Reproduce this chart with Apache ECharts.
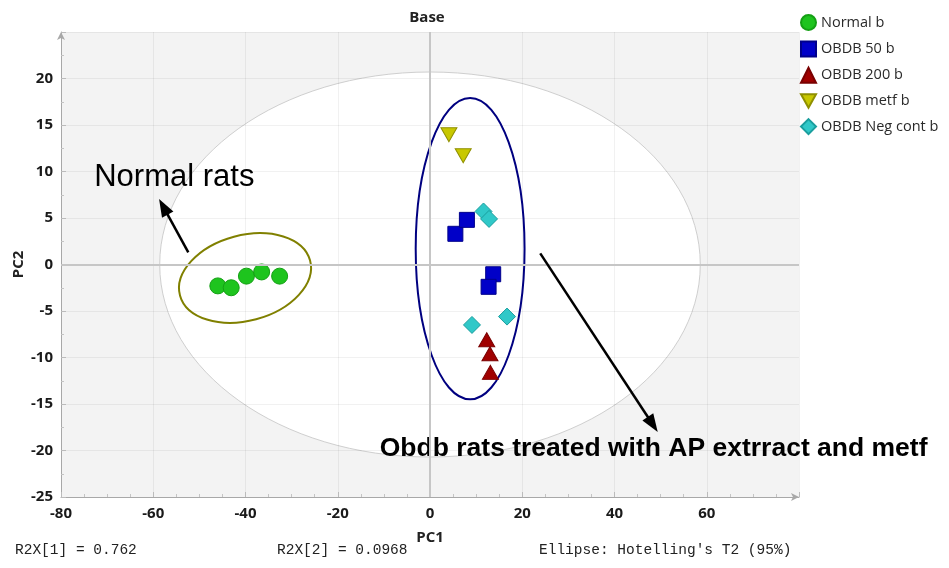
<!DOCTYPE html>
<html>
<head>
<meta charset="utf-8">
<title>Base – PCA score plot</title>
<script src="https://cdn.jsdelivr.net/npm/echarts@6/dist/echarts.min.js"></script>
<style>
  html, body { margin: 0; padding: 0; background: #ffffff; }
  #chart { width: 949px; height: 568px; }
</style>
</head>
<body>
<div id="chart"></div>
<script>
// PCA scores [PC1, PC2] per group
const normalB   = [[-46.0, -2.3], [-43.1, -2.5], [-39.8, -1.25], [-36.5, -0.8], [-32.6, -1.25]];
const obdb50B   = [[5.5, 3.3], [8.0, 4.8], [13.7, -1.05], [12.7, -2.4]];
const obdb200B  = [[12.3, -8.1], [13.0, -9.6], [13.1, -11.6]];
const obdbMetfB = [[4.1, 13.95], [7.2, 11.7]];
const obdbNegB  = [[11.6, 5.7], [12.8, 4.9], [9.1, -6.5], [16.7, -5.6]];

const groupNames = ['Normal b', 'OBDB 50 b', 'OBDB 200 b', 'OBDB metf b', 'OBDB Neg cont b'];

// Axis ranges
const pc1Range = [-80, 80, 20];
const pc2Range = [-25, 25, 5];

// Hotelling's T2 (95%) ellipse: [centre PC1, centre PC2, half-width PC1, half-height PC2, tilt deg]
const hotelling = [[0, 0, 58.6, 20.7, 0]];
// Group outlines drawn by hand around the clusters
const groupRings = [
  [-40.1, -1.45, 14.6, 4.6, 15],
  [8.7, 1.7, 11.8, 16.2, 0]
];
// Annotation arrows: [tail, head]
const arrows = [
  [[-52.4, 1.3], [-57.8, 6.2]],
  [[23.9, 1.2], [48.3, -17.2]]
];
// Annotation texts: [PC1, PC2, text]
const notes = [
  [-72.8, 9.4, 'Normal rats'],
  [-10.9, -19.8, 'Obdb rats treated with AP extrract and metf']
];
const footer = ['R2X[1] = 0.762', 'R2X[2] = 0.0968', "Ellipse: Hotelling's T2 (95%)"];

const chart = echarts.init(document.getElementById('chart'), null, { renderer: 'canvas' });

const tickFont = { fontFamily: 'Open Sans', fontWeight: 'bold', fontSize: 15, color: '#1a1a1a' };

function ellipseRenderer(strokeColor, lineWidth, fillColor) {
  return function (params, api) {
    const c = api.coord([api.value(0), api.value(1)]);
    const s = api.size([api.value(2), api.value(3)]);
    return {
      type: 'ellipse',
      x: c[0], y: c[1],
      rotation: api.value(4) * Math.PI / 180,
      shape: { cx: 0, cy: 0, rx: s[0], ry: s[1] },
      style: { fill: fillColor, stroke: strokeColor, lineWidth: lineWidth }
    };
  };
}

const ringColors = ['#808000', '#000080'];

const option = {
  animation: false,
  backgroundColor: '#ffffff',
  legend: {
    orient: 'vertical',
    left: 795, top: 9,
    itemWidth: 15, itemHeight: 15, itemGap: 9.4,
    data: groupNames,
    textStyle: { fontFamily: 'Open Sans', fontSize: 14.5, color: '#2a2a2a' }
  },
  grid: {
    left: 61, right: 150, top: 32, bottom: 71,
    outerBoundsMode: 'none',
    containLabel: false,
    show: true, backgroundColor: '#f3f3f3', borderWidth: 0, z: 0
  },
  xAxis: {
    type: 'value', min: pc1Range[0], max: pc1Range[1], interval: pc1Range[2],
    z: 1,
    name: 'PC1', nameLocation: 'middle', nameGap: 33, nameMoveOverlap: false,
    nameTextStyle: { fontFamily: 'Open Sans', fontWeight: 'bold', fontSize: 15, color: '#222' },
    axisLine: { onZero: false, lineStyle: { color: '#a8a8a8' }, symbol: ['none', 'arrow'], symbolSize: [6, 8] },
    axisTick: { inside: true, length: 5, lineStyle: { color: '#bbb' } },
    minorTick: { show: true, splitNumber: 4, length: 3, lineStyle: { color: '#c4c4c4' } },
    axisLabel: Object.assign({ margin: 9, formatter: v => (v === pc1Range[1] ? '' : String(v)) }, tickFont),
    splitLine: { show: true, lineStyle: { color: 'rgba(0,0,0,0.055)' } }
  },
  yAxis: {
    type: 'value', min: pc2Range[0], max: pc2Range[1], interval: pc2Range[2],
    z: 1,
    name: 'PC2', nameLocation: 'middle', nameGap: 35, nameRotate: 90, nameMoveOverlap: false,
    nameTextStyle: { fontFamily: 'Open Sans', fontWeight: 'bold', fontSize: 15, color: '#222' },
    axisLine: { onZero: false, lineStyle: { color: '#a8a8a8' }, symbol: ['none', 'arrow'], symbolSize: [6, 8] },
    axisTick: { inside: true, length: 5, lineStyle: { color: '#bbb' } },
    minorTick: { show: true, splitNumber: 2, length: 3, lineStyle: { color: '#c4c4c4' } },
    axisLabel: Object.assign({ margin: 8, formatter: v => (v === pc2Range[1] ? '' : String(v)) }, tickFont),
    splitLine: { show: true, lineStyle: { color: 'rgba(0,0,0,0.055)' } }
  },
  graphic: [
    {
      type: 'text', x: 427, y: 18,
      style: {
        text: 'Base', font: 'bold 15px "Open Sans", sans-serif', fill: '#222',
        align: 'center', verticalAlign: 'middle'
      }
    }
  ].concat(footer.map((t, i) => ({
    type: 'text',
    x: [15, 277, 539][i], y: 550,
    style: {
      text: t, font: '14.5px "Liberation Mono", "DejaVu Sans Mono", monospace', fill: '#222',
      verticalAlign: 'middle'
    }
  }))),
  series: [
    {
      name: 'T2 ellipse',
      type: 'custom',
      z: 0.5,
      silent: true,
      encode: { x: 0, y: 1 },
      data: hotelling,
      renderItem: ellipseRenderer('#cfcfcf', 1, '#ffffff'),
      markLine: {
        silent: true, symbol: 'none',
        label: { show: false },
        lineStyle: { color: '#c6c6c6', width: 2, type: 'solid' },
        data: [{ xAxis: 0 }, { yAxis: 0 }]
      }
    },
    {
      name: 'Group rings',
      type: 'custom',
      z: 1.5,
      silent: true,
      encode: { x: 0, y: 1 },
      data: groupRings,
      renderItem: function (params, api) {
        return ellipseRenderer(ringColors[params.dataIndex], 2, 'none')(params, api);
      },
      markLine: {
        silent: true,
        symbol: ['none', 'triangle'],
        symbolSize: [13, 18],
        label: { show: false },
        lineStyle: { color: '#000', width: 2.5, type: 'solid' },
        data: arrows.map(a => [{ coord: a[0] }, { coord: a[1] }])
      }
    },
    {
      name: 'Notes',
      type: 'custom',
      z: 3,
      silent: true,
      encode: { x: 0, y: 1 },
      data: notes,
      renderItem: function (params, api) {
        const c = api.coord([api.value(0), api.value(1)]);
        const bold = params.dataIndex === 1;
        return {
          type: 'text',
          x: c[0], y: c[1],
          style: {
            text: notes[params.dataIndex][2],
            font: (bold ? 'bold 26.5px' : '31px') + ' "Liberation Sans", Arial, sans-serif',
            fill: '#000',
            align: 'left',
            verticalAlign: 'middle'
          }
        };
      }
    },
    {
      name: groupNames[0], type: 'scatter', z: 2,
      symbol: 'circle', symbolSize: 16,
      itemStyle: { opacity: 1, color: '#1ec41e', borderColor: '#14a014', borderWidth: 1 },
      data: normalB
    },
    {
      name: groupNames[1], type: 'scatter', z: 2,
      symbol: 'rect', symbolSize: 15,
      itemStyle: { opacity: 1, color: '#0000c8', borderColor: '#00008a', borderWidth: 1 },
      data: obdb50B
    },
    {
      name: groupNames[2], type: 'scatter', z: 2,
      symbol: 'triangle', symbolSize: [16, 14],
      itemStyle: { opacity: 1, color: '#a00000', borderColor: '#7a0000', borderWidth: 1 },
      data: obdb200B
    },
    {
      name: groupNames[3], type: 'scatter', z: 2,
      symbol: 'path://M0,0 L10,0 L5,9 Z', symbolSize: [16, 14],
      itemStyle: { opacity: 1, color: '#c8c800', borderColor: '#8f8f00', borderWidth: 1 },
      data: obdbMetfB
    },
    {
      name: groupNames[4], type: 'scatter', z: 2,
      symbol: 'diamond', symbolSize: 17,
      itemStyle: { opacity: 1, color: '#30c8c8', borderColor: '#1a9e9e', borderWidth: 1 },
      data: obdbNegB
    }
  ]
};

chart.setOption(option);
</script>
</body>
</html>
